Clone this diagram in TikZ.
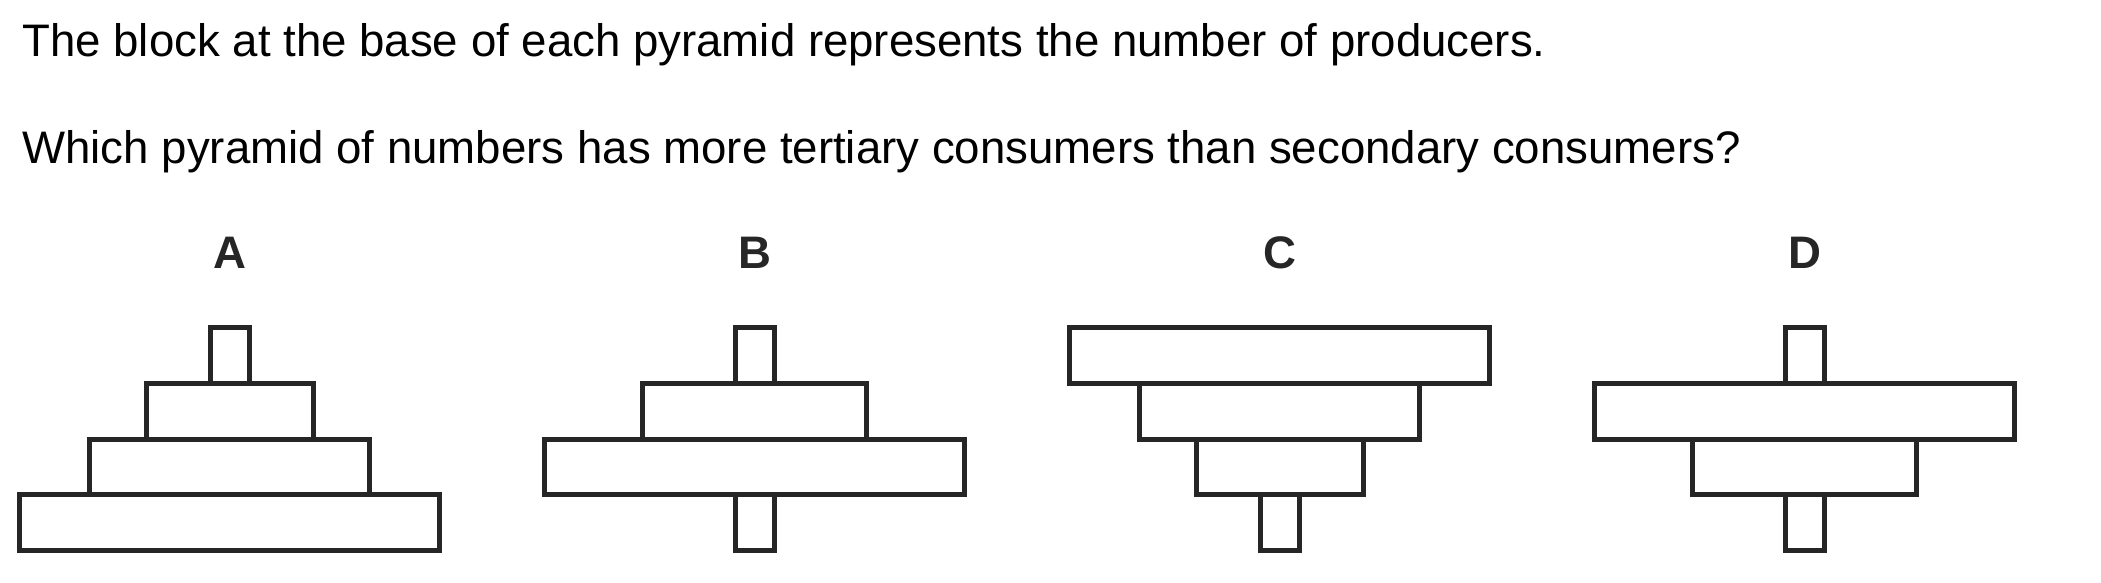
\documentclass[tikz,border=0pt]{standalone}
\usepackage{fontspec}
\setmainfont{Liberation Sans}
\usepackage{tikz}
\usepackage{xcolor}
\definecolor{ink}{RGB}{38,38,38}

\begin{document}
\begin{tikzpicture}[
    x=0.5pt, y=-0.5pt,
    textline/.style={anchor=base west, inner sep=0pt, font=\fontsize{22.8pt}{27pt}\selectfont},
    letter/.style={anchor=base, inner sep=0pt, text=ink, font=\fontsize{22.8pt}{27pt}\selectfont\bfseries},
    tier/.style={rectangle, draw=ink, line width=2.5pt, inner sep=0pt, minimum height=27.9pt, minimum width=#1},
    ]
    \useasboundingbox (0,0) rectangle (2101,583);
    %Text
    \node[textline] (intro)    at (22,56.7)  {The block at the base of each pyramid represents the number of producers.};
    \node[textline] (question) at (22,163.3) {Which pyramid of numbers has more tertiary consumers than secondary consumers?};

    %Labels
    \node[letter] (labA) at (229.5,268.7)  {A};
    \node[letter] (labB) at (754.5,268.7)  {B};
    \node[letter] (labC) at (1279.5,268.7) {C};
    \node[letter] (labD) at (1804.5,268.7) {D};

    %Pyramid A
    \node[tier=19.5pt] (a1) at (229.5,355.4) {};
    \node[tier=83.5pt] (a2) at (229.5,411.2) {};
    \node[tier=140pt]  (a3) at (229.5,467.0) {};
    \node[tier=210pt]  (a4) at (229.5,522.8) {};

    %Pyramid B
    \node[tier=19.5pt] (b1) at (754.5,355.4) {};
    \node[tier=112pt]  (b2) at (754.5,411.2) {};
    \node[tier=210pt]  (b3) at (754.5,467.0) {};
    \node[tier=19.5pt] (b4) at (754.5,522.8) {};

    %Pyramid C
    \node[tier=210pt]  (c1) at (1279.5,355.4) {};
    \node[tier=140pt]  (c2) at (1279.5,411.2) {};
    \node[tier=83.5pt] (c3) at (1279.5,467.0) {};
    \node[tier=19.5pt] (c4) at (1279.5,522.8) {};

    %Pyramid D
    \node[tier=19.5pt] (d1) at (1804.5,355.4) {};
    \node[tier=210pt]  (d2) at (1804.5,411.2) {};
    \node[tier=112pt]  (d3) at (1804.5,467.0) {};
    \node[tier=19.5pt] (d4) at (1804.5,522.8) {};
\end{tikzpicture}
\end{document}
